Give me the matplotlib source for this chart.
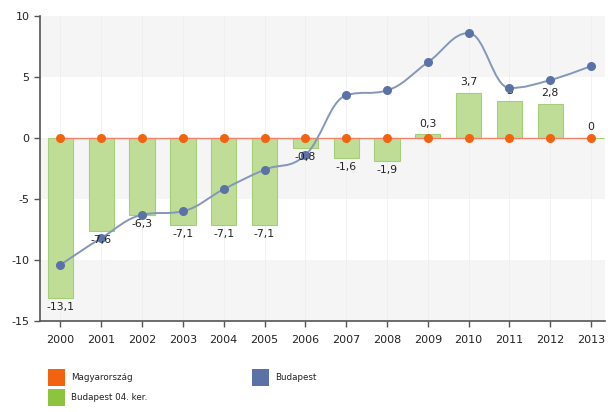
import matplotlib
matplotlib.use("Agg")
import matplotlib.pyplot as plt
from matplotlib.path import Path
from matplotlib.patches import PathPatch, Rectangle

years = ["2000", "2001", "2002", "2003", "2004", "2005", "2006",
         "2007", "2008", "2009", "2010", "2011", "2012", "2013"]
magyarorszag = [0, 0, 0, 0, 0, 0, 0, 0, 0, 0, 0, 0, 0, 0]
budapest = [-10.4, -8.2, -6.3, -6.0, -4.2, -2.6, -1.4,
            3.5, 3.9, 6.2, 8.6, 4.1, 4.75, 5.9]
ker04 = [-13.1, -7.6, -6.3, -7.1, -7.1, -7.1, -0.8,
         -1.6, -1.9, 0.3, 3.7, 3.0, 2.8, 0.0]
labels = ["-13,1", "-7,6", "-6,3", "-7,1", "-7,1", "-7,1", "-0,8",
          "-1,6", "-1,9", "0,3", "3,7", "3", "2,8", "0"]
yticks = [-15, -10, -5, 0, 5, 10]

W, H = 608, 412
fig = plt.figure(figsize=(W / 100, H / 100), dpi=100)
ax = fig.add_axes([40 / W, 1 - 321 / H, (605 - 40) / W, (321 - 16) / H])
x = list(range(len(years)))

# background bands
for lo in (5, -5, -15):
    ax.axhspan(lo, lo + 5, color="#f5f5f5", zorder=0, lw=0)
for xi in x:
    ax.axvline(xi, color="#efefef", lw=0.6, zorder=0.5)

# bars
ax.bar(x, ker04, width=0.62, color="#bfdd97", edgecolor="#a6ce78", lw=0.8, zorder=2)

# Magyarország line
ax.plot(x, magyarorszag, color="#f2836b", lw=1.0, zorder=3)
ax.plot(x, magyarorszag, "o", color="#f2620f", ms=6.5, mec="none", zorder=5)

# Budapest spline (Highcharts-style smoothing)
def spline_path(xs, ys, smoothing=1.5):
    denom = smoothing + 1
    n = len(xs)
    lc = [None] * n
    rc = [None] * n
    for i in range(1, n - 1):
        px, py = xs[i - 1], ys[i - 1]
        nx, ny = xs[i + 1], ys[i + 1]
        cx, cy = xs[i], ys[i]
        lcx = (smoothing * cx + px) / denom
        lcy = (smoothing * cy + py) / denom
        rcx = (smoothing * cx + nx) / denom
        rcy = (smoothing * cy + ny) / denom
        corr = ((rcy - lcy) * (rcx - cx)) / (rcx - lcx) + cy - rcy
        lcy += corr
        rcy += corr
        if lcy > max(py, cy):
            lcy = max(py, cy); rcy = 2 * cy - lcy
        elif lcy < min(py, cy):
            lcy = min(py, cy); rcy = 2 * cy - lcy
        if rcy > max(ny, cy):
            rcy = max(ny, cy); lcy = 2 * cy - rcy
        elif rcy < min(ny, cy):
            rcy = min(ny, cy); lcy = 2 * cy - rcy
        lc[i] = (lcx, lcy)
        rc[i] = (rcx, rcy)
    verts = [(xs[0], ys[0])]
    codes = [Path.MOVETO]
    for i in range(1, n):
        c1 = rc[i - 1] if rc[i - 1] else (xs[i - 1], ys[i - 1])
        c2 = lc[i] if lc[i] else (xs[i], ys[i])
        verts += [c1, c2, (xs[i], ys[i])]
        codes += [Path.CURVE4] * 3
    return Path(verts, codes)

ax.add_patch(PathPatch(spline_path(x, budapest), fill=False,
                       edgecolor="#8497b8", lw=1.4, zorder=4))
ax.plot(x, budapest, "o", color="#5a72a6", ms=6.5, mec="none", zorder=6)

# data labels
for xi, v, lab in zip(x, ker04, labels):
    if v < 0:
        ax.annotate(lab, (xi, v), xytext=(0, -3), textcoords="offset points",
                    ha="center", va="top", fontsize=7.8, color="#222222", zorder=7)
    else:
        ax.annotate(lab, (xi, v), xytext=(0, 4), textcoords="offset points",
                    ha="center", va="bottom", fontsize=7.8, color="#222222", zorder=5.5)

ax.set_xlim(-0.5, 13.34)
ax.set_ylim(-15, 10)
ax.set_yticks(yticks)
ax.set_yticklabels([str(t) for t in yticks])
ax.set_xticks(x)
ax.set_xticklabels(years)
for s in ("top", "right"):
    ax.spines[s].set_visible(False)
for s in ("left", "bottom"):
    ax.spines[s].set_color("#555555")
    ax.spines[s].set_linewidth(1.2)
ax.tick_params(axis="both", colors="#555555", labelcolor="#222222", labelsize=8,
               length=4, width=1)
ax.tick_params(axis="x", pad=6)
ax.set_facecolor("white")

# legend
def leg(px, py, color, text):
    fig.patches.append(Rectangle((px / W, 1 - (py + 17) / H), 17 / W, 17 / H,
                                 transform=fig.transFigure, facecolor=color,
                                 edgecolor="none"))
    fig.text((px + 23) / W, 1 - (py + 9) / H, text, fontsize=6.3,
             color="#222222", va="center", ha="left")

leg(48, 369, "#f2620f", "Magyarország")
leg(252, 369, "#5a72a6", "Budapest")
leg(48, 389, "#8cc43f", "Budapest 04. ker.")

fig.savefig("out.png", dpi=100)
